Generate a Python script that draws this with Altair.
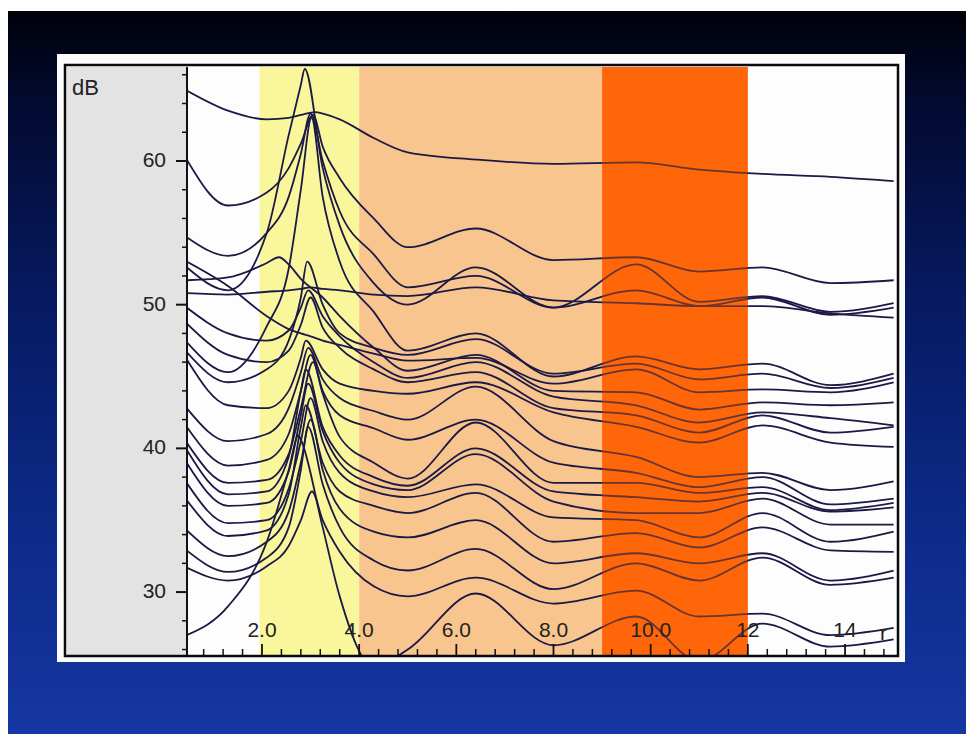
import altair as alt
import pandas as pd

# ---------------- data ----------------
# knot positions along the frequency axis; index 5 is each curve's own peak position
KNOTS = [0.45, 1.3, 2.1, 2.55, 2.8, None, 3.25, 3.6, 4.3, 5.0, 6.4, 8.0, 9.7, 11.0, 12.3, 13.7, 15.0]
PEAK_X = [3.1, 3.05, 2.88, 3.0, 3.0,
          3.02, 2.93, 3.0, 2.35, 2.95, 3.0, 2.9, 2.95, 3.0, 3.05,
          2.9, 2.95, 3.0, 2.9, 3.0, 2.95, 3.03, 2.75]
CURVES = [
    [64.9, 63.5, 62.9, 63.0, 63.2, 63.4, 63.3, 62.9, 61.6, 60.6, 60.1, 59.8, 59.9, 59.4, 59.1, 58.9, 58.6],
    [60.1, 56.9, 57.8, 59.5, 61.2, 63.2, 61.0, 58.8, 56.0, 54.0, 55.3, 53.1, 53.3, 52.3, 52.6, 51.5, 51.7],
    [52.6, 51.0, 55.0, 61.8, 65.3, 66.4, 59.5, 55.5, 51.5, 50.0, 52.6, 49.8, 52.8, 50.2, 50.6, 49.5, 50.1],
    [54.7, 53.4, 55.0, 57.5, 60.5, 63.3, 60.0, 56.5, 53.5, 51.2, 52.0, 49.8, 51.0, 49.9, 50.5, 49.3, 49.8],
    [50.8, 50.7, 50.9, 51.0, 51.1, 51.2, 51.1, 51.0, 50.7, 50.6, 51.2, 50.3, 50.1, 49.9, 49.9, 49.4, 49.1],
    [47.4, 45.3, 48.5, 52.5, 58.0, 63.0, 57.5, 53.0, 49.5, 46.8, 48.0, 45.0, 46.4, 45.5, 45.9, 44.4, 45.2],
    [46.7, 44.6, 45.5, 47.5, 50.5, 53.0, 50.0, 48.0, 47.0, 46.5, 47.6, 45.2, 45.9, 44.8, 45.2, 44.2, 44.9],
    [53.0, 51.3, 49.2, 48.3, 48.0, 47.8, 47.5, 47.2, 46.6, 46.1, 46.3, 44.5, 45.5, 43.9, 44.1, 43.9, 44.6],
    [51.7, 51.9, 52.9, 52.8, 51.8, 53.3, 50.5, 49.2, 47.0, 45.4, 46.5, 44.0, 43.9, 42.7, 43.2, 43.0, 43.2],
    [49.8, 48.0, 47.5, 48.2, 49.8, 51.0, 49.2, 47.8, 46.0, 44.9, 46.0, 43.6, 43.0, 41.8, 42.5, 42.1, 41.6],
    [48.7, 46.5, 46.0, 46.8, 48.6, 50.5, 48.4, 47.0, 45.5, 44.6, 45.3, 42.8, 42.3, 41.1, 42.3, 41.1, 41.5],
    [46.2, 43.0, 42.8, 44.0, 46.3, 47.5, 45.5, 44.5, 44.0, 43.8, 44.6, 42.5, 41.5, 40.4, 41.6, 40.4, 40.1],
    [42.8, 40.5, 41.0, 42.8, 45.3, 47.0, 44.8, 43.5, 42.6, 42.0, 44.3, 40.5, 39.4, 38.0, 38.3, 37.1, 37.7],
    [41.5, 38.8, 39.2, 41.0, 44.0, 46.5, 44.0, 42.3, 41.4, 40.6, 42.0, 39.0, 38.3, 37.3, 38.0, 36.1, 36.5],
    [40.4, 37.6, 37.8, 39.6, 42.8, 46.0, 43.8, 40.8, 39.0, 37.9, 41.8, 37.6, 37.6, 36.9, 37.3, 35.7, 36.2],
    [39.9, 36.8, 37.0, 39.4, 44.0, 45.5, 41.5, 39.5, 38.0, 37.4, 40.0, 37.0, 36.6, 36.3, 36.9, 35.6, 35.9],
    [39.0, 36.0, 36.2, 38.4, 42.3, 44.5, 41.2, 39.0, 37.5, 37.1, 39.6, 36.3, 35.5, 35.5, 36.5, 34.7, 34.7],
    [37.6, 34.8, 35.0, 37.2, 40.5, 43.5, 40.5, 38.3, 37.0, 36.6, 37.5, 35.2, 35.0, 33.8, 35.5, 33.5, 34.2],
    [36.4, 33.9, 34.3, 36.8, 41.5, 43.0, 39.0, 37.0, 36.0, 35.5, 36.9, 33.5, 34.1, 33.1, 34.5, 32.9, 32.8],
    [34.3, 32.5, 33.5, 35.6, 39.0, 42.0, 38.5, 35.8, 34.2, 33.8, 35.0, 32.0, 32.7, 32.0, 32.7, 30.8, 31.5],
    [32.9, 31.4, 32.4, 34.5, 38.5, 41.5, 37.5, 34.5, 32.2, 31.5, 33.0, 30.2, 32.0, 30.8, 32.4, 30.5, 31.0],
    [31.7, 30.8, 31.8, 33.2, 35.0, 37.0, 35.0, 32.8, 30.4, 29.7, 31.0, 29.2, 30.1, 28.3, 28.5, 27.0, 27.5],
    [27.0, 29.0, 33.5, 38.5, 40.6, 40.9, 34.5, 29.7, 24.8, 26.0, 29.9, 26.3, 28.3, 25.2, 27.8, 26.2, 26.7],
]

BAND_START = [1.95, 4.0, 9.0]
BAND_END = [4.0, 9.0, 12.0]
BAND_COLOR = ["#f9f69b", "#f8c58f", "#ff660a"]

X_LABEL_TICKS = [2, 4, 6, 8, 10, 12, 14]
X_LABELS = ["2.0", "4.0", "6.0", "8.0", "10.0", "12", "14"]
X_MINOR_TICKS = [0.8, 1.2, 1.6, 2.4, 2.8, 3.2, 3.6, 4.4, 4.8, 5.2, 5.6, 6.4, 6.8, 7.2, 7.6,
                 8.4, 8.8, 9.2, 9.6, 10.4, 10.8, 11.2, 11.6, 12.4, 12.8, 13.2, 13.6, 14.4, 14.8]
Y_LABEL_TICKS = [30, 40, 50, 60]
Y_LABELS = ["30", "40", "50", "60"]
Y_MINOR_TICKS = [26, 28, 32, 34, 36, 38, 42, 44, 46, 48, 52, 54, 56, 58, 62, 64, 66]

X_DOMAIN = [0.457, 15.09]
Y_DOMAIN = [25.62, 66.54]

W, H = 711, 588
FONT = "Liberation Sans"
INK = "#111111"
TEXT = "#222222"

# ---------------- tables ----------------
rows = []
for i, vals in enumerate(CURVES):
    for k, v in zip(KNOTS, vals):
        rows.append({"curve": i, "f": PEAK_X[i] if k is None else k, "db": v})
lines_df = pd.DataFrame(rows)
bands_df = pd.DataFrame({"a": BAND_START, "b": BAND_END, "c": BAND_COLOR})
xlab_df = pd.DataFrame({"t": X_LABEL_TICKS, "s": X_LABELS})
ylab_df = pd.DataFrame({"t": Y_LABEL_TICKS, "s": Y_LABELS})
one = pd.DataFrame({"z": [0]})

xs = alt.Scale(domain=X_DOMAIN, nice=False, zero=False)
ys = alt.Scale(domain=Y_DOMAIN, nice=False, zero=False)

grad = alt.Gradient(
    gradient="linear",
    stops=[
        alt.GradientStop(color="#00010a", offset=0.0),
        alt.GradientStop(color="#020a2e", offset=0.12),
        alt.GradientStop(color="#071a62", offset=0.4),
        alt.GradientStop(color="#0d2c8c", offset=0.75),
        alt.GradientStop(color="#1636a2", offset=1.0),
    ],
    x1=0, x2=0, y1=0, y2=1,
)

page_white = alt.Chart(one).mark_rect(color="#ffffff").encode(
    x=alt.value(-187), x2=alt.value(779), y=alt.value(-67), y2=alt.value(667))
backdrop = alt.Chart(one).mark_rect(color=grad).encode(
    x=alt.value(-179), x2=alt.value(779), y=alt.value(-56), y2=alt.value(667))
frame = alt.Chart(one).mark_rect(color="#fbfbfb").encode(
    x=alt.value(-130), x2=alt.value(718), y=alt.value(-13), y2=alt.value(595))
gray = alt.Chart(one).mark_rect(color="#e3e3e3").encode(
    x=alt.value(-120), x2=alt.value(0), y=alt.value(0), y2=alt.value(H))
plotbg = alt.Chart(one).mark_rect(color="#fdfdfd").encode(
    x=alt.value(0), x2=alt.value(W), y=alt.value(0), y2=alt.value(H))

bands = alt.Chart(bands_df).mark_rect().encode(
    x=alt.X("a:Q", scale=xs, axis=None), x2="b:Q",
    y=alt.value(0), y2=alt.value(H),
    color=alt.Color("c:N", scale=None, legend=None),
)

lines = alt.Chart(lines_df).mark_line(
    clip=True, interpolate="monotone", color="#1b1945", strokeWidth=1.8
).encode(
    x=alt.X("f:Q", scale=xs, axis=None),
    y=alt.Y("db:Q", scale=ys, axis=None),
    detail="curve:N",
)

overlay = alt.Chart(bands_df.iloc[[2]]).mark_rect(opacity=0.35).encode(
    x=alt.X("a:Q", scale=xs, axis=None), x2="b:Q",
    y=alt.value(0), y2=alt.value(H),
    color=alt.Color("c:N", scale=None, legend=None),
)

border = alt.Chart(one).mark_rect(fill=None, stroke="#0a0a0a", strokeWidth=2.5).encode(
    x=alt.value(-122), x2=alt.value(W), y=alt.value(-2), y2=alt.value(H + 1))
yaxis_line = alt.Chart(one).mark_rule(color=INK, strokeWidth=2).encode(
    x=alt.value(0), y=alt.value(0), y2=alt.value(H))

xminor = alt.Chart(pd.DataFrame({"t": X_MINOR_TICKS})).mark_rule(color=INK, strokeWidth=1.5).encode(
    x=alt.X("t:Q", scale=xs, axis=None), y=alt.value(H - 6), y2=alt.value(H))
xmajor = alt.Chart(xlab_df).mark_rule(color=INK, strokeWidth=1.8).encode(
    x=alt.X("t:Q", scale=xs, axis=None), y=alt.value(H - 11), y2=alt.value(H))
xlabels = alt.Chart(xlab_df).mark_text(
    align="center", baseline="alphabetic", font=FONT, fontSize=21, color=TEXT
).encode(x=alt.X("t:Q", scale=xs, axis=None), y=alt.value(H - 18), text="s:N")

yminor = alt.Chart(pd.DataFrame({"t": Y_MINOR_TICKS})).mark_rule(color=INK, strokeWidth=1.5).encode(
    y=alt.Y("t:Q", scale=ys, axis=None), x=alt.value(-5), x2=alt.value(0))
ymajor = alt.Chart(ylab_df).mark_rule(color=INK, strokeWidth=2).encode(
    y=alt.Y("t:Q", scale=ys, axis=None), x=alt.value(-11), x2=alt.value(0))
ylabels = alt.Chart(ylab_df).mark_text(
    align="right", baseline="middle", font=FONT, fontSize=21, color=TEXT
).encode(y=alt.Y("t:Q", scale=ys, axis=None), x=alt.value(-21), text="s:N")

db_label = alt.Chart(one).mark_text(
    text="dB", align="left", baseline="alphabetic", font=FONT, fontSize=22, color=TEXT
).encode(x=alt.value(-115), y=alt.value(28))
r_label = alt.Chart(one).mark_text(
    text="r", align="left", baseline="alphabetic", font=FONT, fontSize=21, color=TEXT
).encode(x=alt.value(693), y=alt.value(573))

chart = alt.layer(
    page_white, backdrop, frame, gray, plotbg, bands, lines, overlay, border, yaxis_line,
    xminor, xmajor, xlabels, yminor, ymajor, ylabels, db_label, r_label,
).properties(
    width=W, height=H,
    autosize=alt.AutoSizeParams(type="none"),
    padding={"left": 187, "top": 67, "right": 68, "bottom": 79},
    background="#0a1d6a",
).configure_view(stroke=None)

chart.save("out.html", embed_options={"renderer": "svg", "actions": False})
